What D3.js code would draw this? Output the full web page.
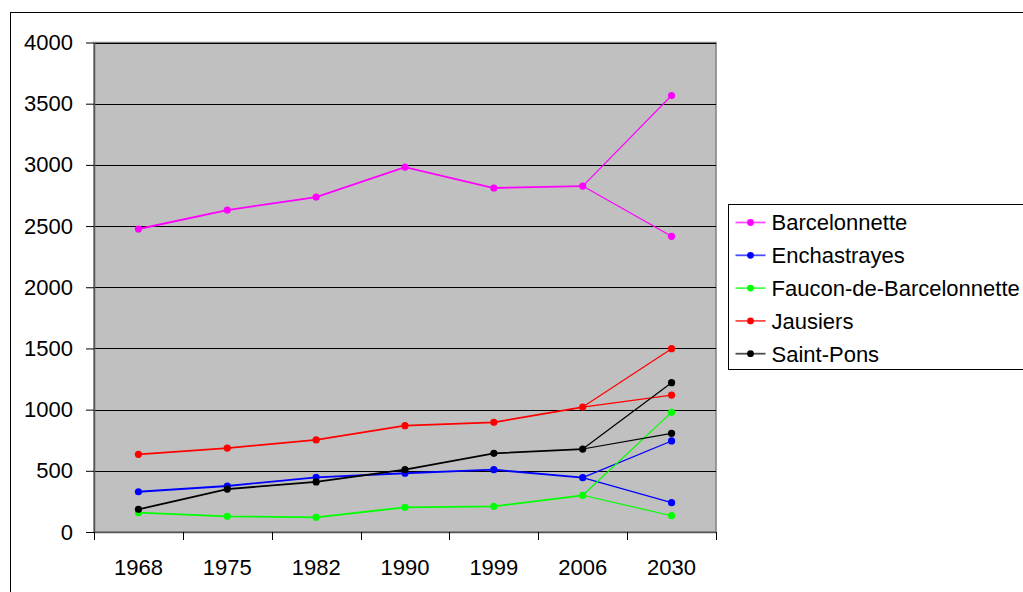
<!DOCTYPE html>
<html>
<head>
<meta charset="utf-8">
<script src="https://cdn.jsdelivr.net/npm/d3@7"></script>
<style>
  body { margin: 0; background: #fff; }
  svg { display: block; }
  text { font-family: "Liberation Sans", Arial, sans-serif; }
</style>
</head>
<body>
<script>
/* ------------------------------- Data ------------------------------- */
const years = ["1968", "1975", "1982", "1990", "1999", "2006", "2030"];
const yTicks = [0, 500, 1000, 1500, 2000, 2500, 3000, 3500, 4000];
const communes = ["Barcelonnette", "Enchastrayes", "Faucon-de-Barcelonnette", "Jausiers", "Saint-Pons"];
const colors = ["#ff00ff", "#0000ff", "#00ff00", "#ff0000", "#000000"];

// census values 1968 -> 2006
const barcelonnette = [2476, 2631, 2737, 2982, 2811, 2827];
const enchastrayes = [329, 376, 447, 480, 509, 444];
const faucon = [158, 128, 120, 202, 210, 300];
const jausiers = [635, 686, 752, 869, 896, 1021];
const saintPons = [185, 351, 409, 509, 643, 678];

// two 2030 projections (high / low), same order as communes
const proj2030High = [3567, 744, 978, 1498, 1220];
const proj2030Low = [2416, 240, 133, 1119, 806];

const history = [barcelonnette, enchastrayes, faucon, jausiers, saintPons];

/* ------------------------------ Layout ------------------------------ */
const width = 1023, height = 592;
const plot = { left: 94, right: 716, top: 42.5, bottom: 532 };

const svg = d3.select("body").append("svg")
    .attr("width", width).attr("height", height);

// outer chart frame (runs off the picture on right and bottom)
svg.append("rect")
    .attr("x", 10.5).attr("y", 12.5)
    .attr("width", 1030).attr("height", 600)
    .attr("fill", "#fff").attr("stroke", "#000").attr("stroke-width", 1);

const x = d3.scaleBand().domain(years).range([plot.left, plot.right]).padding(0);
const y = d3.scaleLinear().domain([0, 4000]).range([plot.bottom, plot.top]);

// plot area
svg.append("rect")
    .attr("x", plot.left).attr("y", plot.top)
    .attr("width", plot.right - plot.left).attr("height", plot.bottom - plot.top)
    .attr("fill", "#c0c0c0").attr("stroke", "#808080").attr("stroke-width", 1.5);

// gridlines
svg.append("g").selectAll("line")
    .data(yTicks.filter(d => d > 0))
    .enter().append("line")
    .attr("x1", plot.left).attr("x2", plot.right)
    .attr("y1", d => Math.round(y(d)) + 0.5).attr("y2", d => Math.round(y(d)) + 0.5)
    .attr("stroke", "#000").attr("stroke-width", 1);

// y axis
const yAxis = svg.append("g")
    .attr("transform", `translate(${plot.left},0)`)
    .call(d3.axisLeft(y).tickValues(yTicks).tickSize(8).tickSizeOuter(0).tickPadding(13).tickFormat(d3.format("d")));
yAxis.select(".domain").attr("stroke", "#555").attr("stroke-width", 1.5);
yAxis.selectAll(".tick line").attr("stroke", "#000");
yAxis.selectAll("text").attr("font-size", "22px").attr("fill", "#000");

// x axis: labels under band centres, ticks on band edges
const xAxis = svg.append("g")
    .attr("transform", `translate(0,${plot.bottom})`)
    .call(d3.axisBottom(x).tickSize(0).tickPadding(27).tickSizeOuter(0));
xAxis.select(".domain").attr("stroke", "#555").attr("stroke-width", 1.5);
xAxis.selectAll("text").attr("font-size", "22px").attr("fill", "#000");

svg.append("g").selectAll("line")
    .data(d3.range(years.length + 1))
    .enter().append("line")
    .attr("x1", i => Math.round(plot.left + i * x.step()) + 0.5)
    .attr("x2", i => Math.round(plot.left + i * x.step()) + 0.5)
    .attr("y1", plot.bottom).attr("y2", plot.bottom + 8)
    .attr("stroke", "#000");

const cx = d => x(d) + x.bandwidth() / 2;

/* ------------------------------ Series ------------------------------ */
const line = d3.line().x(d => cx(d.year)).y(d => y(d.value));

communes.forEach((name, i) => {
    const g = svg.append("g");
    const pts = history[i].map((v, j) => ({ year: years[j], value: v }));
    const last = pts[pts.length - 1];
    const high = { year: "2030", value: proj2030High[i] };
    const low = { year: "2030", value: proj2030Low[i] };

    g.append("path").datum(pts)
        .attr("d", line).attr("fill", "none")
        .attr("stroke", colors[i]).attr("stroke-width", 1.8);

    [high, low].forEach(p => {
        g.append("path").datum([last, p])
            .attr("d", line).attr("fill", "none")
            .attr("stroke", colors[i]).attr("stroke-width", 1.2);
    });

    g.selectAll("circle")
        .data(pts.concat([high, low]))
        .enter().append("circle")
        .attr("cx", d => cx(d.year)).attr("cy", d => y(d.value))
        .attr("r", 3.6).attr("fill", colors[i]);
});

/* ------------------------------ Legend ------------------------------ */
const legend = svg.append("g").attr("transform", "translate(728.5,204.5)");
legend.append("rect")
    .attr("width", 320).attr("height", 165)
    .attr("fill", "#fff").attr("stroke", "#000").attr("stroke-width", 1);

const item = legend.selectAll("g.item")
    .data(communes).enter().append("g")
    .attr("class", "item")
    .attr("transform", (d, i) => `translate(0,${18 + i * 32.8})`);

item.append("line")
    .attr("x1", 7).attr("x2", 37).attr("y1", 0).attr("y2", 0)
    .attr("stroke", (d, i) => colors[i]).attr("stroke-width", 1.8).attr("stroke-opacity", 0.7);
item.append("circle")
    .attr("cx", 22).attr("cy", 0).attr("r", 3.4)
    .attr("fill", (d, i) => colors[i]);
item.append("text")
    .attr("x", 43).attr("y", 0).attr("dy", "0.36em")
    .attr("font-size", "22px").attr("fill", "#000")
    .text(d => d);
</script>
</body>
</html>
